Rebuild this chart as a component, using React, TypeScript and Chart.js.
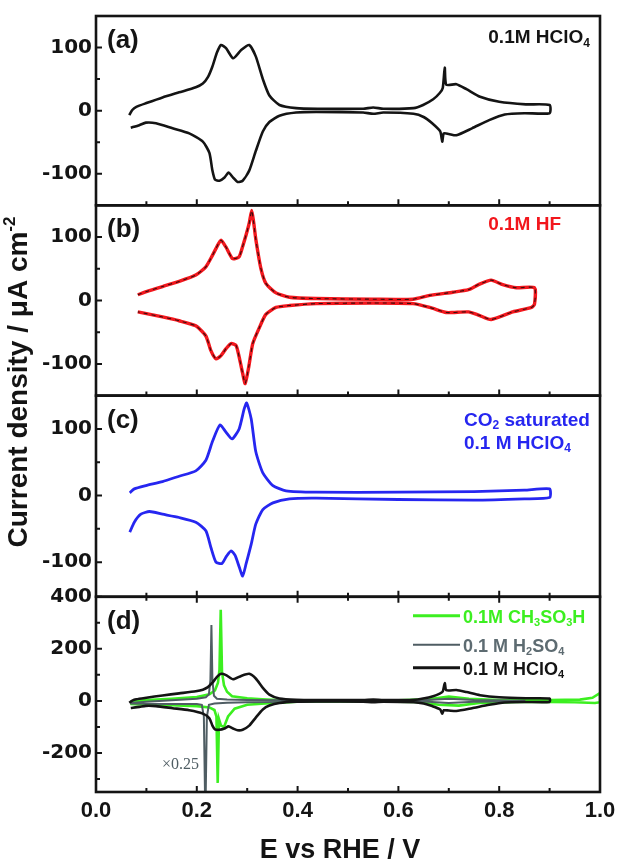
import React, { useEffect, useRef } from 'react';
import { Chart, registerables } from 'chart.js';

Chart.register(...registerables);

// ---------- Data (E vs RHE / V, current density / µA cm^-2) ----------
// (a) 0.1M HClO4
const aAnodicE = [0.066, 0.072, 0.08, 0.1, 0.132, 0.165, 0.198, 0.212, 0.222, 0.231, 0.24, 0.248, 0.258, 0.272, 0.288, 0.304, 0.317, 0.331, 0.344, 0.364, 0.397, 0.44, 0.53, 0.55, 0.57, 0.63, 0.649, 0.669, 0.682, 0.688, 0.692, 0.695, 0.715, 0.735, 0.762, 0.8, 0.853, 0.9];
const aAnodicJ = [-7, 1, 6, 12, 21, 29, 37, 43, 53, 70, 92, 104, 99, 83, 96, 104, 86, 50, 24, 9, 4, 3, 3, 5, 3, 4, 9, 18, 28, 36, 68, 41, 42, 34, 22, 14, 10, 9];
const aCathodicE = [0.9, 0.85, 0.811, 0.78, 0.746, 0.715, 0.7, 0.69, 0.687, 0.683, 0.667, 0.65, 0.63, 0.57, 0.55, 0.53, 0.437, 0.397, 0.364, 0.344, 0.331, 0.317, 0.304, 0.291, 0.281, 0.272, 0.263, 0.255, 0.245, 0.236, 0.231, 0.225, 0.212, 0.185, 0.152, 0.119, 0.099, 0.086, 0.069];
const aCathodicJ = [-4, -4, -6, -15, -28, -39, -37, -36, -49, -33, -20, -10, -5, -3, -5, -3, -2, -3, -8, -18, -33, -64, -95, -111, -113, -106, -98, -106, -111, -109, -95, -67, -49, -36, -28, -20, -19, -23, -27];

// (b) 0.1M HF
const bAnodicE = [0.083, 0.1, 0.132, 0.165, 0.198, 0.218, 0.231, 0.24, 0.248, 0.258, 0.271, 0.284, 0.292, 0.298, 0.304, 0.309, 0.313, 0.317, 0.327, 0.337, 0.357, 0.384, 0.437, 0.55, 0.629, 0.662, 0.708, 0.739, 0.759, 0.784, 0.807, 0.834, 0.87];
const bAnodicJ = [9, 14, 22, 30, 40, 53, 71, 85, 95, 84, 66, 69, 88, 104, 122, 142, 122, 97, 51, 27, 12, 5, 3, 2, 2, 8, 13, 17, 25, 32, 25, 20, 20];
const bCathodicE = [0.87, 0.864, 0.827, 0.784, 0.759, 0.739, 0.708, 0.695, 0.662, 0.629, 0.55, 0.437, 0.384, 0.357, 0.337, 0.324, 0.311, 0.303, 0.296, 0.291, 0.284, 0.278, 0.268, 0.258, 0.248, 0.238, 0.228, 0.218, 0.198, 0.165, 0.132, 0.083];
const bCathodicJ = [-6, -11, -18, -30, -23, -18, -19, -19, -11, -5, -4, -5, -8, -11, -22, -43, -68, -105, -131, -115, -89, -71, -68, -76, -87, -92, -79, -56, -40, -32, -26, -18];

// (c) CO2 saturated 0.1 M HClO4
const cAnodicE = [0.067, 0.076, 0.099, 0.132, 0.165, 0.198, 0.218, 0.231, 0.246, 0.258, 0.27, 0.284, 0.294, 0.299, 0.308, 0.317, 0.331, 0.351, 0.377, 0.437, 0.6, 0.75, 0.85, 0.9];
const cAnodicJ = [4, 10, 15, 21, 29, 37, 53, 81, 106, 95, 85, 100, 130, 139, 115, 66, 34, 15, 7, 5, 5, 6, 8, 10];
const cCathodicE = [0.9, 0.85, 0.75, 0.6, 0.437, 0.384, 0.351, 0.331, 0.317, 0.308, 0.298, 0.291, 0.284, 0.276, 0.268, 0.259, 0.25, 0.238, 0.228, 0.218, 0.198, 0.165, 0.132, 0.106, 0.089, 0.076, 0.067];
const cCathodicJ = [-3, -5, -7, -6, -4, -5, -11, -21, -43, -73, -102, -121, -107, -90, -83, -91, -102, -100, -78, -53, -40, -33, -28, -24, -28, -40, -55];

// (d) 0.1M CH3SO3H
const gAnodicE = [0.068, 0.1, 0.15, 0.2, 0.225, 0.236, 0.242, 0.245, 0.2475, 0.25, 0.254, 0.26, 0.27, 0.3, 0.33, 0.36, 0.45, 0.6, 0.66, 0.7, 0.74, 0.8, 0.9, 0.96, 0.985, 1.0];
const gAnodicJ = [-3, 3, 8, 15, 25, 40, 70, 120, 350, 110, 60, 35, 18, 10, 6, 3, 2, 2, 6, 17, 8, 3, 3, 5, 12, 30];
const gCathodicE = [1.0, 0.99, 0.95, 0.85, 0.76, 0.72, 0.68, 0.64, 0.55, 0.4, 0.35, 0.3, 0.275, 0.262, 0.254, 0.248, 0.244, 0.2415, 0.239, 0.235, 0.225, 0.2, 0.15, 0.1, 0.068];
const gCathodicJ = [-5, -8, -5, -3, -8, -18, -15, -4, -2, -3, -8, -15, -30, -60, -100, -95, -70, -315, -60, -35, -25, -20, -17, -15, -12];

// (d) 0.1 M H2SO4 (x0.25)
const sAnodicE = [0.068, 0.1, 0.15, 0.2, 0.218, 0.224, 0.227, 0.229, 0.231, 0.234, 0.24, 0.26, 0.3, 0.38, 0.5, 0.65, 0.7, 0.75, 0.85];
const sAnodicJ = [-8, -3, 2, 8, 14, 25, 80, 291, 80, 20, 8, 5, 3, 2, 1, 2, 8, 3, 1];
const sCathodicE = [0.85, 0.75, 0.7, 0.65, 0.5, 0.38, 0.3, 0.26, 0.235, 0.224, 0.22, 0.217, 0.214, 0.21, 0.2, 0.15, 0.1, 0.068];
const sCathodicJ = [-1, -3, -8, -2, -2, -3, -5, -7, -10, -15, -60, -450, -60, -15, -12, -12, -11, -10];

// Axes
const xMajorTicks = [0, 0.2, 0.4, 0.6, 0.8, 1.0];
const xMinorTicks = [0.1, 0.3, 0.5, 0.7, 0.9];
const yMajorABC = [-100, 0, 100];
const yMinorABC = [-50, 50];
const yMajorD = [-200, 0, 200, 400];
const yMinorD = [-300, -100, 100, 300];

const panelLabels = ['(a)', '(b)', '(c)', '(d)'];
const legendLabels = ['0.1M CH₃SO₃H', '0.1 M H₂SO₄', '0.1 M HClO₄'];

const SANS = '"Liberation Sans", Arial, sans-serif';
const INK = '#141414';
const RED = '#f2171d';
const BLUE = '#2626f0';
const GREEN = '#3cef20';
const GRAY = '#4f5d63';

const pts = (e: number[], j: number[]) => e.map((x, i) => ({ x, y: j[i] }));
const loop = (e1: number[], j1: number[], e2: number[], j2: number[]) => [...pts(e1, j1), ...pts(e2, j2)];

const SUB = '₀₁₂₃₄₅₆₇₈₉';
const SUP = '⁰¹²³⁴⁵⁶⁷⁸⁹⁻';
const SUPN = '0123456789-';

function drawRich(ctx: CanvasRenderingContext2D, text: string, x: number, y: number, size: number, weight: string, color: string, family: string, align: 'left' | 'right' | 'center') {
  const runs: { kind: string; t: string }[] = [];
  for (const ch of Array.from(text)) {
    const si = SUB.indexOf(ch);
    const pi = SUP.indexOf(ch);
    const kind = si >= 0 ? 'sub' : pi >= 0 ? 'sup' : 'n';
    const c = si >= 0 ? String(si) : pi >= 0 ? SUPN[pi] : ch;
    if (runs.length && runs[runs.length - 1].kind === kind) runs[runs.length - 1].t += c;
    else runs.push({ kind, t: c });
  }
  const fontFor = (k: string) => `${weight} ${k === 'n' ? size : Math.round(size * 0.62)}px ${family}`;
  const widths = runs.map(r => { ctx.font = fontFor(r.kind); return ctx.measureText(r.t).width; });
  const total = widths.reduce((a, b) => a + b, 0);
  let cx = align === 'left' ? x : align === 'right' ? x - total : x - total / 2;
  ctx.fillStyle = color;
  ctx.textBaseline = 'alphabetic';
  ctx.textAlign = 'left';
  runs.forEach((r, i) => {
    ctx.font = fontFor(r.kind);
    const dy = r.kind === 'sub' ? size * 0.2 : r.kind === 'sup' ? -size * 0.42 : 0;
    ctx.fillText(r.t, cx, y + dy);
    cx += widths[i];
  });
}

const panelIds = ['ya', 'yb', 'yc', 'yd'];

const framePlugin = {
  id: 'frames',
  afterDatasetsDraw(chart: any) {
    const ctx: CanvasRenderingContext2D = chart.ctx;
    const { left, right } = chart.chartArea;
    const xs = chart.scales.x;
    ctx.save();
    ctx.strokeStyle = INK;
    ctx.lineCap = 'butt';
    panelIds.forEach((id) => {
      const s = chart.scales[id];
      const minor = id === 'yd' ? yMinorD : yMinorABC;
      ctx.lineWidth = 2;
      ctx.beginPath();
      s.ticks.forEach((t: any) => {
        const py = s.getPixelForValue(t.value);
        ctx.moveTo(left, py); ctx.lineTo(left + 6, py);
      });
      minor.forEach((v) => {
        const py = s.getPixelForValue(v);
        ctx.moveTo(left, py); ctx.lineTo(left + 4, py);
      });
      xMajorTicks.forEach((v) => {
        const px = xs.getPixelForValue(v);
        ctx.moveTo(px, s.bottom); ctx.lineTo(px, s.bottom - 6);
        if (id === 'yd') { ctx.moveTo(px, s.top); ctx.lineTo(px, s.top + 6); }
      });
      xMinorTicks.forEach((v) => {
        const px = xs.getPixelForValue(v);
        ctx.moveTo(px, s.bottom); ctx.lineTo(px, s.bottom - 4);
        if (id === 'yd') { ctx.moveTo(px, s.top); ctx.lineTo(px, s.top + 4); }
      });
      ctx.stroke();
      ctx.lineWidth = 2.6;
      ctx.strokeRect(left, s.top, right - left, s.bottom - s.top);
    });
    ctx.restore();
  },
  afterDraw(chart: any) {
    const ctx: CanvasRenderingContext2D = chart.ctx;
    const { left, right } = chart.chartArea;
    ctx.save();
    // panel letters
    panelIds.forEach((id, i) => {
      const s = chart.scales[id];
      drawRich(ctx, panelLabels[i], left + 11, s.top + 32, 26, 'bold', INK, SANS, 'left');
    });
    const sa = chart.scales.ya, sb = chart.scales.yb, sc = chart.scales.yc, sd = chart.scales.yd;
    drawRich(ctx, '0.1M HClO₄', right - 10, sa.top + 27, 19, 'bold', INK, SANS, 'right');
    drawRich(ctx, '0.1M HF', right - 39, sb.top + 25, 19, 'bold', RED, SANS, 'right');
    drawRich(ctx, 'CO₂ saturated', right - 136, sc.top + 30, 19, 'bold', BLUE, SANS, 'left');
    drawRich(ctx, '0.1 M HClO₄', right - 136, sc.top + 53, 19, 'bold', BLUE, SANS, 'left');
    // legend in (d)
    const legColors = [GREEN, '#5d6b71', INK];
    const legY = [sd.top + 19, sd.top + 48, sd.top + 71];
    legendLabels.forEach((lab, i) => {
      ctx.strokeStyle = i === 1 ? GRAY : legColors[i];
      ctx.lineWidth = i === 1 ? 2 : 3;
      ctx.beginPath();
      ctx.moveTo(right - 187, legY[i]);
      ctx.lineTo(right - 140, legY[i]);
      ctx.stroke();
      drawRich(ctx, lab, right - 137, legY[i] + 7, 18, 'bold', legColors[i], SANS, 'left');
    });
    // scale note
    drawRich(ctx, '×0.25', left + 66, sd.bottom - 23, 16, 'normal', GRAY, '"Liberation Serif", serif', 'left');
    // axis titles
    drawRich(ctx, 'E vs RHE / V', 340, 858, 27, 'bold', INK, SANS, 'center');
    ctx.translate(27, 382);
    ctx.rotate(-Math.PI / 2);
    drawRich(ctx, 'Current density / μA cm⁻²', 0, 0, 28, 'bold', INK, SANS, 'center');
    ctx.restore();
  },
};

const yScale = (min: number, max: number, weight: number, stackWeight: number, major: number[]) => ({
  type: 'linear',
  position: 'left',
  stack: 'panels',
  stackWeight,
  weight,
  min,
  max,
  grid: { display: false, drawTicks: false },
  border: { display: false },
  ticks: {
    font: { family: '"DejaVu Sans", sans-serif', weight: 'bold', size: 20 },
    color: INK,
    padding: 4,
    autoSkip: false,
    callback: (v: any) => String(v),
  },
  afterBuildTicks: (s: any) => { s.ticks = major.map((v) => ({ value: v })); },
  afterFit: (s: any) => { s.width = 96; },
});

export default function App() {
  const ref = useRef<HTMLCanvasElement | null>(null);
  useEffect(() => {
    if (!ref.current) return;
    const line = (data: any[], yAxisID: string, color: string, width: number, extra: any = {}) => ({
      data, yAxisID, xAxisID: 'x', borderColor: color, backgroundColor: color, borderWidth: width,
      pointRadius: 0, tension: 0.2, fill: false, ...extra,
    });
    const hclo4 = loop(aAnodicE, aAnodicJ, aCathodicE, aCathodicJ);
    const hf = loop(bAnodicE, bAnodicJ, bCathodicE, bCathodicJ);
    const co2 = loop(cAnodicE, cAnodicJ, cCathodicE, cCathodicJ);
    const msa = loop(gAnodicE, gAnodicJ, gCathodicE, gCathodicJ);
    const h2so4 = loop(sAnodicE, sAnodicJ, sCathodicE, sCathodicJ);
    const chart = new Chart(ref.current, {
      type: 'line',
      data: {
        datasets: [
          line(hclo4, 'ya', INK, 2.6),
          line(hf, 'yb', '#3a0c0c', 1.1, { borderDash: [4, 4] }),
          line(hf, 'yb', RED, 3.4),
          line(co2, 'yc', BLUE, 2.8),
          line(hclo4, 'yd', INK, 2.6),
          line(h2so4, 'yd', GRAY, 2, { tension: 0 }),
          line(msa, 'yd', GREEN, 2.6, { tension: 0 }),
        ],
      } as any,
      options: {
        animation: false,
        responsive: false,
        devicePixelRatio: 1,
        events: [],
        layout: { padding: { top: 5, right: 26, left: 0, bottom: 0 } },
        plugins: { legend: { display: false }, tooltip: { enabled: false } },
        scales: {
          x: {
            type: 'linear',
            position: 'bottom',
            min: 0,
            max: 1,
            grid: { display: false, drawTicks: false },
            border: { display: false },
            ticks: {
              font: { family: SANS, weight: 'bold', size: 22 },
              color: INK,
              padding: 6,
              maxRotation: 0,
              autoSkip: false,
              callback: (v: any) => Number(v).toFixed(1),
            },
            afterBuildTicks: (s: any) => { s.ticks = xMajorTicks.map((v) => ({ value: v })); },
            afterFit: (s: any) => { s.height = 72; },
          },
          ya: yScale(-150, 150, 4, 192, yMajorABC),
          yb: yScale(-150, 150, 3, 193, yMajorABC),
          yc: yScale(-152, 150, 2, 204, yMajorABC),
          yd: yScale(-350, 400, 1, 198, yMajorD),
        } as any,
      },
      plugins: [framePlugin],
    });
    return () => chart.destroy();
  }, []);
  return (
    <div style={{ position: 'absolute', left: 0, top: 0, width: 626, height: 864, background: '#fff' }}>
      <canvas ref={ref} width={626} height={864} style={{ width: 626, height: 864, display: 'block' }} />
    </div>
  );
}
